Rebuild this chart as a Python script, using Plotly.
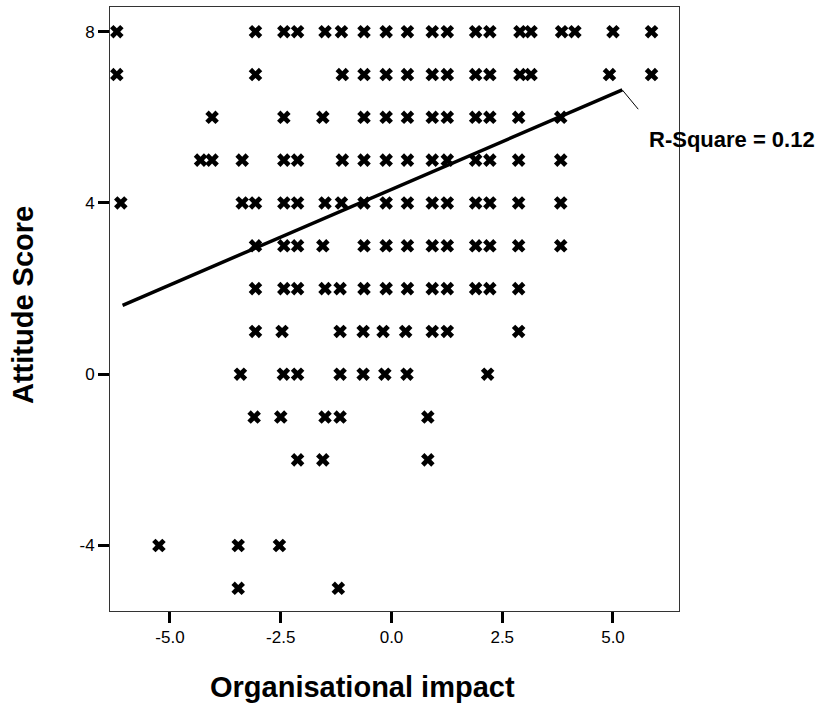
import plotly.graph_objects as go

# Organisational impact values observed at each Attitude Score level
impact_at_8 = [-6.2, -3.07, -2.43, -2.12, -1.5, -1.13, -0.62, -0.12, 0.36, 0.92, 1.26, 1.9, 2.22, 2.9, 3.15, 3.84, 4.14, 5.0, 5.87]
impact_at_7 = [-6.2, -3.07, -1.11, -0.62, -0.12, 0.36, 0.92, 1.26, 1.9, 2.22, 2.9, 3.15, 4.92, 5.87]
impact_at_6 = [-4.05, -2.43, -1.55, -0.62, -0.12, 0.36, 0.92, 1.26, 1.9, 2.22, 2.87, 3.82]
impact_at_5 = [-4.31, -4.05, -3.37, -2.43, -2.12, -1.11, -0.62, -0.12, 0.36, 0.92, 1.26, 1.9, 2.22, 2.87, 3.82]
impact_at_4 = [-6.11, -3.37, -3.07, -2.43, -2.12, -1.5, -1.13, -0.62, -0.12, 0.36, 0.92, 1.26, 1.9, 2.22, 2.87, 3.82]
impact_at_3 = [-3.07, -2.43, -2.12, -1.55, -0.62, -0.12, 0.36, 0.92, 1.26, 1.9, 2.22, 2.87, 3.82]
impact_at_2 = [-3.07, -2.43, -2.12, -1.5, -1.16, -0.62, -0.12, 0.36, 0.92, 1.26, 1.9, 2.22, 2.87]
impact_at_1 = [-3.07, -2.47, -1.16, -0.64, -0.19, 0.32, 0.92, 1.26, 2.87]
impact_at_0 = [-3.41, -2.44, -2.12, -1.16, -0.64, -0.15, 0.35, 2.17]
impact_at_m1 = [-3.1, -2.5, -1.5, -1.16, 0.82]
impact_at_m2 = [-2.12, -1.55, 0.82]
impact_at_m4 = [-5.25, -3.46, -2.53]
impact_at_m5 = [-3.46, -1.2]

score_levels = [8, 7, 6, 5, 4, 3, 2, 1, 0, -1, -2, -4, -5]
impact_rows = [impact_at_8, impact_at_7, impact_at_6, impact_at_5, impact_at_4,
               impact_at_3, impact_at_2, impact_at_1, impact_at_0, impact_at_m1,
               impact_at_m2, impact_at_m4, impact_at_m5]

# Linear fit line (endpoints) and label leader
fit_x = [-6.07, 5.21]
fit_y = [1.61, 6.64]
leader_x = [5.21, 5.57]
leader_y = [6.64, 6.19]
r_square_label = "R-Square = 0.12"

x_tickvals = [-5.0, -2.5, 0.0, 2.5, 5.0]
x_ticktext = ["-5.0", "-2.5", "0.0", "2.5", "5.0"]
y_tickvals = [-4, 0, 4, 8]
y_ticktext = ["-4", "0", "4", "8"]

impact = []
attitude = []
for level, row in zip(score_levels, impact_rows):
    for v in row:
        impact.append(v)
        attitude.append(level)

fig = go.Figure()
fig.add_trace(go.Scatter(
    x=impact, y=attitude, mode="markers",
    marker=dict(symbol="x", size=12, color="black", line=dict(width=0)),
    showlegend=False, hoverinfo="x+y"))
fig.add_trace(go.Scatter(
    x=fit_x, y=fit_y, mode="lines",
    line=dict(color="black", width=3.5), showlegend=False))
fig.add_trace(go.Scatter(
    x=leader_x, y=leader_y, mode="lines",
    line=dict(color="black", width=1), showlegend=False))

W, H = 828, 713
L, R, T, B = 110, 149, 7, 102
pw, ph = W - L - R, H - T - B

def px_x(p):
    return (p - L) / pw

def px_y(p):
    return (H - B - p) / ph

fig.add_annotation(x=px_x(647), y=px_y(140), xref="paper", yref="paper",
                   text="<b>" + r_square_label + "</b>", showarrow=False,
                   xanchor="left", yanchor="middle",
                   font=dict(family="Liberation Sans, Arial, sans-serif", size=22, color="black"))
fig.add_annotation(x=px_x(23), y=px_y(305), xref="paper", yref="paper",
                   text="<b>Attitude Score</b>", showarrow=False, textangle=-90,
                   xanchor="center", yanchor="middle",
                   font=dict(family="Liberation Sans, Arial, sans-serif", size=29, color="black"))
fig.add_annotation(x=px_x(362), y=px_y(687), xref="paper", yref="paper",
                   text="<b>Organisational impact</b>", showarrow=False,
                   xanchor="center", yanchor="middle",
                   font=dict(family="Liberation Sans, Arial, sans-serif", size=29, color="black"))

axis_common = dict(showgrid=False, zeroline=False, showline=True, linecolor="#333",
                   linewidth=1, mirror=True, ticks="outside", ticklen=11, tickwidth=3,
                   tickcolor="black",
                   tickfont=dict(family="Liberation Sans, Arial, sans-serif", size=17, color="black"))

fig.update_layout(
    width=W, height=H,
    margin=dict(l=L, r=R, t=T, b=B, pad=0),
    paper_bgcolor="white", plot_bgcolor="white",
    xaxis=dict(range=[-6.354, 6.49], tickvals=x_tickvals, ticktext=x_ticktext, **axis_common),
    yaxis=dict(range=[-5.53, 8.577], tickvals=y_tickvals, ticktext=y_ticktext, **axis_common),
)

fig.write_html("out.html")
